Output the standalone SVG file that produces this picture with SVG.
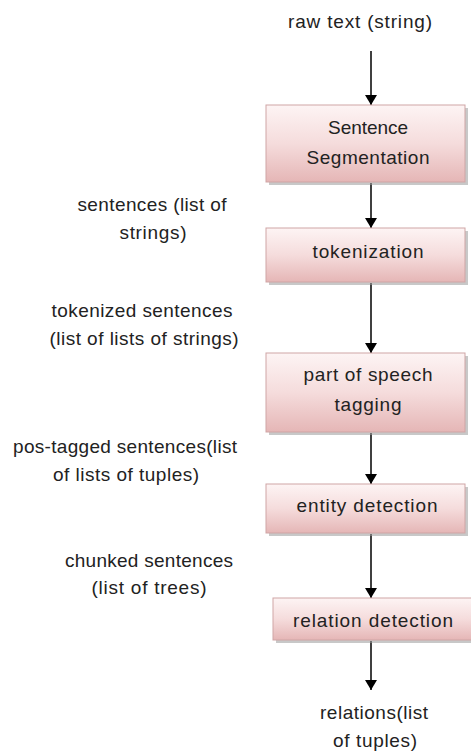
<svg xmlns="http://www.w3.org/2000/svg" width="471" height="753" viewBox="0 0 471 753">
<style>
text{font-family:"Liberation Sans",Arial,sans-serif;font-size:19px;fill:#222;text-anchor:middle}
.box{fill:url(#g);stroke:#cfa5a5;stroke-width:1}
.sh{fill:#9a9a9a;opacity:0.55}
.ln{stroke:#000;stroke-width:1.5;fill:none;marker-end:url(#ah)}
</style>
<defs>
<linearGradient id="g" x1="0" y1="0" x2="0" y2="1">
<stop offset="0" stop-color="#fdf4f4"/>
<stop offset="0.5" stop-color="#f5dcdc"/>
<stop offset="1" stop-color="#e5b6b6"/>
</linearGradient>
<marker id="ah" viewBox="0 0 10 12" refX="10" refY="6" markerWidth="10" markerHeight="12" markerUnits="userSpaceOnUse" orient="auto">
<path d="M0,0 L10,6 L0,12 z" fill="#000"/>
</marker>
</defs>
<rect width="471" height="753" fill="#fff"/>
<g id="connectors">
<line class="ln" x1="371" y1="51" x2="371" y2="105"/>
<line class="ln" x1="371" y1="183" x2="371" y2="228"/>
<line class="ln" x1="371" y1="283" x2="371" y2="353"/>
<line class="ln" x1="371" y1="433" x2="371" y2="484"/>
<line class="ln" x1="371" y1="534" x2="371" y2="598"/>
<line class="ln" x1="371" y1="641" x2="371" y2="690"/>
</g>
<g id="n-raw"><text x="360" y="28" textLength="144" lengthAdjust="spacing">raw text (string)</text></g>
<g id="n-seg">
<rect class="sh" x="269" y="108" width="199" height="77"/>
<rect class="box" x="266" y="105" width="199" height="77"/>
<text x="368" y="134" textLength="80" lengthAdjust="spacing">Sentence</text>
<text x="368" y="164" textLength="123" lengthAdjust="spacing">Segmentation</text>
</g>
<g id="n-tok">
<rect class="sh" x="269" y="231" width="199" height="54"/>
<rect class="box" x="266" y="228" width="199" height="54"/>
<text x="368" y="258" textLength="111" lengthAdjust="spacing">tokenization</text>
</g>
<g id="n-pos">
<rect class="sh" x="269" y="356" width="199" height="79"/>
<rect class="box" x="266" y="353" width="199" height="79"/>
<text x="368" y="381" textLength="129" lengthAdjust="spacing">part of speech</text>
<text x="368" y="411" textLength="67" lengthAdjust="spacing">tagging</text>
</g>
<g id="n-ent">
<rect class="sh" x="269" y="487" width="199" height="49"/>
<rect class="box" x="266" y="484" width="199" height="49"/>
<text x="367" y="512" textLength="141" lengthAdjust="spacing">entity detection</text>
</g>
<g id="n-rel">
<rect class="sh" x="276" y="601" width="200" height="42"/>
<rect class="box" x="273" y="598" width="200" height="42"/>
<text x="373" y="627" textLength="160" lengthAdjust="spacing">relation detection</text>
</g>
<g id="n-out">
<text x="374" y="719" textLength="108" lengthAdjust="spacing">relations(list</text>
<text x="375" y="747" textLength="84" lengthAdjust="spacing">of tuples)</text>
</g>
<g id="l-sent">
<text x="152" y="211" textLength="149" lengthAdjust="spacing">sentences (list of</text>
<text x="153" y="239" textLength="67" lengthAdjust="spacing">strings)</text>
</g>
<g id="l-tok">
<text x="142" y="317" textLength="181" lengthAdjust="spacing">tokenized sentences</text>
<text x="144" y="345" textLength="189" lengthAdjust="spacing">(list of lists of strings)</text>
</g>
<g id="l-pos">
<text x="125" y="453" textLength="224" lengthAdjust="spacing">pos-tagged sentences(list</text>
<text x="126" y="481" textLength="146" lengthAdjust="spacing">of lists of tuples)</text>
</g>
<g id="l-chunk">
<text x="149" y="567" textLength="168" lengthAdjust="spacing">chunked sentences</text>
<text x="149" y="594" textLength="115" lengthAdjust="spacing">(list of trees)</text>
</g>
</svg>
